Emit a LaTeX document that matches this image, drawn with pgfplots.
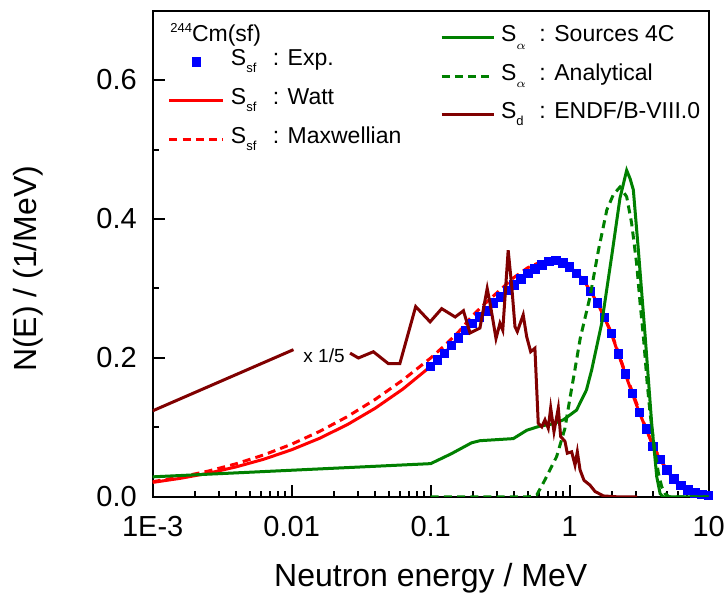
\documentclass[border=0pt]{standalone}
\usepackage{fontspec}
\setmainfont{Liberation Sans}
\usepackage{pgfplots}
\pgfplotsset{compat=1.18}

\definecolor{expblue}{RGB}{0,0,255}
\definecolor{wattred}{RGB}{255,0,0}
\definecolor{alphagreen}{RGB}{0,128,0}
\definecolor{endfbrown}{RGB}{128,0,0}

% legend label: S with a lowered subscript and a fixed-width gap before the colon
\newcommand{\lbl}[3]{S\makebox[#1][l]{\raisebox{-3.6pt}{\fontsize{6.5}{6.5}\selectfont #2}}: #3}

% Watt fission spectrum (solid red)
\pgfplotstableread{
E N
0.001 0.0210
0.001585 0.0269
0.002512 0.0342
0.003981 0.0433
0.00631 0.0544
0.01 0.0680
0.01585 0.0844
0.02512 0.1041
0.03981 0.1276
0.0631 0.1553
0.100 0.188
0.112 0.197
0.126 0.207
0.141 0.218
0.158 0.229
0.178 0.240
0.200 0.250
0.224 0.259
0.251 0.268
0.282 0.279
0.316 0.288
0.355 0.297
0.398 0.305
0.447 0.314
0.501 0.322
0.562 0.328
0.631 0.334
0.708 0.339
0.794 0.340
0.891 0.337
1.000 0.331
1.122 0.322
1.259 0.312
1.413 0.296
1.585 0.279
1.778 0.258
1.995 0.235
2.239 0.206
2.512 0.177
2.818 0.149
3.162 0.122
3.548 0.098
3.981 0.073
4.467 0.054
5.012 0.039
5.623 0.026
6.310 0.017
7.079 0.010
7.943 0.006
8.913 0.004
10.00 0.002
}\watt

% Maxwellian fission spectrum (dashed red)
\pgfplotstableread{
E N
0.001 0.0220
0.001585 0.0288
0.002512 0.0373
0.003981 0.0478
0.00631 0.0606
0.01 0.0760
0.01585 0.0943
0.02512 0.1156
0.03981 0.1403
0.0631 0.1684
0.1 0.200
0.126 0.218
0.158 0.237
0.2 0.261
0.251 0.280
0.316 0.298
0.398 0.316
0.5 0.330
0.6 0.337
0.7 0.340
0.8 0.339
1.0 0.331
1.2 0.317
1.5 0.290
2.0 0.236
2.5 0.180
3.0 0.137
3.5 0.101
4.0 0.073
5.0 0.038
6.0 0.018
7.0 0.009
8.0 0.004
10 0.001
}\maxw

% measured spontaneous fission spectrum
\pgfplotstableread{
E N
0.100 0.188
0.112 0.197
0.126 0.207
0.141 0.218
0.158 0.229
0.178 0.240
0.200 0.250
0.224 0.259
0.251 0.268
0.282 0.279
0.316 0.288
0.355 0.297
0.398 0.305
0.447 0.314
0.501 0.322
0.562 0.328
0.631 0.334
0.708 0.339
0.794 0.340
0.891 0.337
1.000 0.331
1.122 0.322
1.259 0.312
1.413 0.296
1.585 0.279
1.778 0.258
1.995 0.235
2.239 0.206
2.512 0.177
2.818 0.149
3.162 0.122
3.548 0.098
3.981 0.073
4.467 0.054
5.012 0.039
5.623 0.026
6.310 0.017
7.079 0.010
7.943 0.006
8.913 0.004
10.00 0.002
}\expdata

% (alpha,n) spectrum from SOURCES 4C
\pgfplotstableread{
E N
0.001 0.029
0.1 0.048
0.14 0.062
0.197 0.078
0.226 0.081
0.393 0.084
0.491 0.096
0.61 0.102
0.75 0.105
0.9 0.111
1.12 0.125
1.32 0.154
1.44 0.183
1.70 0.250
2.0 0.345
2.3 0.430
2.57 0.470
2.72 0.458
2.87 0.442
3.12 0.355
3.48 0.235
3.89 0.106
4.23 0.029
4.47 0.005
4.7 0.0
10 0.0
}\sourcesfc

% analytical (alpha,n) spectrum
\pgfplotstableread{
E N
0.1 0
0.5 0
0.58 0.003
0.653 0.022
0.805 0.058
0.925 0.099
1.0 0.140
1.09 0.183
1.19 0.228
1.40 0.288
1.61 0.355
1.85 0.413
2.06 0.435
2.30 0.446
2.57 0.432
2.79 0.394
3.03 0.336
3.21 0.279
3.40 0.228
3.61 0.164
3.79 0.120
4.06 0.072
4.35 0.034
4.59 0.015
4.85 0.005
5.2 0.0
10 0.0
}\analyt

% delayed neutron spectrum, ENDF/B-VIII.0 (scaled by 1/5)
\pgfplotstableread{
E N
0.001 0.124
0.0103 0.212
0.018 nan
0.0263 0.207
0.0302 0.200
0.0387 0.209
0.0495 0.192
0.060 0.192
0.078 0.274
0.099 0.252
0.12 0.271
0.15 0.259
0.172 0.268
0.192 0.236
0.226 0.243
0.255 0.300
0.27 0.274
0.295 0.228
0.315 0.250
0.33 0.240
0.361 0.355
0.383 0.303
0.404 0.245
0.42 0.238
0.463 0.262
0.49 0.231
0.524 0.209
0.562 0.214
0.594 0.106
0.63 0.101
0.664 0.111
0.701 0.099
0.73 0.128
0.771 0.094
0.828 0.128
0.861 0.087
0.925 0.080
0.961 0.063
1.033 0.065
1.092 0.046
1.135 0.065
1.187 0.039
1.267 0.024
1.40 0.017
1.52 0.008
1.75 0.0015
2.3 0.0
3.05 0.0
}\endf

\begin{document}
\begin{tikzpicture}
\begin{axis}[
  at={(0,0)}, anchor=south west, scale only axis,
  width=278pt, height=243.25pt,
  xmode=log, xmin=1e-3, xmax=10, ymin=0, ymax=0.7,
  axis line style={line width=1pt},
  tick align=inside, tick pos=left,
  major tick length=6pt, minor tick length=3.2pt,
  every tick/.style={black, line width=1pt},
  xtick={0.001,0.01,0.1,1,10},
  xticklabels={1E-3,0.01,0.1,1,10},
  minor xtick={0.002,0.003,0.004,0.005,0.006,0.007,0.008,0.009,
    0.02,0.03,0.04,0.05,0.06,0.07,0.08,0.09,
    0.2,0.3,0.4,0.5,0.6,0.7,0.8,0.9,
    2,3,4,5,6,7,8,9},
  ytick={0,0.2,0.4,0.6},
  yticklabels={0.0,0.2,0.4,0.6},
  minor ytick={0.1,0.3,0.5},
  ticklabel style={font=\fontsize{14.5}{15}\selectfont},
  xticklabel style={inner sep=0pt, anchor=north, yshift=-9.5pt},
  yticklabel style={inner sep=0pt, anchor=east, xshift=-7.8pt},
  xlabel={Neutron energy / MeV},
  ylabel={N(E) / (1/MeV)},
  every axis x label/.style={at={(rel axis cs:0.5,-0.1665)}, anchor=center,
    font=\fontsize{16}{17}\selectfont},
  every axis y label/.style={at={(rel axis cs:-0.2243,0.469)}, anchor=center, rotate=90,
    font=\fontsize{16}{17}\selectfont},
  legend cell align=left,
  legend style={at={(rel axis cs:0.0275,0.815)}, anchor=west,
    draw=none, fill=none, inner sep=0pt, outer sep=0pt,
    font=\fontsize{11.5}{12}\selectfont,
    nodes={inner xsep=3pt, inner ysep=0pt, text height=8.5pt, text depth=4.5pt},
    row sep=6.4pt},
  legend image code/.code={\draw[mark repeat=2, mark phase=2, #1]
    plot coordinates {(0pt,0pt) (13.5pt,0pt) (27pt,0pt)};},
]
\addplot[wattred, line width=1.5pt, forget plot] table[x=E, y=N] {\watt};
\addplot[wattred, line width=1.5pt, dash pattern=on 4pt off 2.6pt, forget plot] table[x=E, y=N] {\maxw};
\addplot[only marks, mark=square*, mark size=2.1pt, draw=expblue, fill=expblue]
  table[x=E, y=N] {\expdata};
\addlegendentry{\lbl{1.15em}{sf}{Exp.}}
\addlegendimage{wattred, line width=1.5pt}
\addlegendentry{\lbl{1.15em}{sf}{Watt}}
\addlegendimage{wattred, line width=1.5pt, dash pattern=on 4pt off 2.6pt}
\addlegendentry{\lbl{1.15em}{sf}{Maxwellian}}
\node[anchor=west, inner sep=0pt, font=\fontsize{11.5}{12}\selectfont]
  at (rel axis cs:0.031,0.95) {\raisebox{4.6pt}{\fontsize{6.5}{6.5}\selectfont 244}Cm(sf)};
\end{axis}

\begin{axis}[
  at={(0,0)}, anchor=south west, scale only axis,
  width=278pt, height=243.25pt,
  xmode=log, xmin=1e-3, xmax=10, ymin=0, ymax=0.7,
  hide axis,
  unbounded coords=jump,
  legend cell align=left,
  legend style={at={(rel axis cs:0.517,0.8647)}, anchor=west,
    draw=none, fill=none, inner sep=0pt, outer sep=0pt,
    font=\fontsize{11.5}{12}\selectfont,
    nodes={inner xsep=3pt, inner ysep=0pt, text height=8.5pt, text depth=4.5pt},
    row sep=6.2pt},
  legend image code/.code={\draw[mark repeat=2, mark phase=2, #1]
    plot coordinates {(0pt,0pt) (13pt,0pt) (26pt,0pt)};},
]
\addplot[alphagreen, line width=1.5pt] table[x=E, y=N] {\sourcesfc};
\addlegendentry{\lbl{1.0em}{$\alpha$}{Sources 4C}}
\addplot[alphagreen, line width=1.5pt, dash pattern=on 4pt off 2.6pt] table[x=E, y=N] {\analyt};
\addlegendentry{\lbl{1.0em}{$\alpha$}{Analytical}}
\addplot[endfbrown, line width=1.5pt] table[x=E, y=N] {\endf};
\addlegendentry{\lbl{1.0em}{d}{ENDF/B-VIII.0}}
\node[font=\fontsize{9.5}{10}\selectfont, inner sep=0pt] at (axis cs:0.0171,0.204) {x 1/5};
\end{axis}

\pgfresetboundingbox
\path (-76.35pt,-50pt) rectangle (287.15pt,248.5pt);
\end{tikzpicture}
\end{document}
